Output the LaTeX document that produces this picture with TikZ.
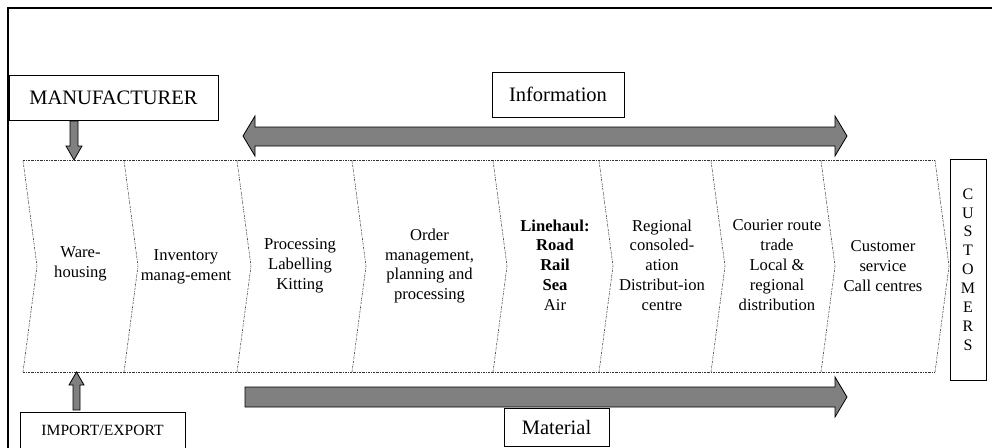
\documentclass[tikz,border=0pt]{standalone}
\usepackage{fontspec}
\setmainfont{Liberation Serif}
\begin{document}
\begin{tikzpicture}[x=1pt,y=-1pt,
  frame/.style={line width=2.6pt},
  band/.style={line width=0.55pt, dash pattern=on 2pt off 1pt on 0.6pt off 1pt, black!80},
  fat/.style={fill=black!50, draw=black, line width=0.8pt, line join=miter},
  lbl/.style={draw, line width=0.8pt, inner sep=0pt, font=\fontsize{20.5}{24}\selectfont},
  stage/.style={align=center, font=\fontsize{16.6}{19.8}\selectfont}]
\useasboundingbox (0,0) rectangle (992,447);
% frame
\draw[frame] (8,460) -- (8,8) -- (1000,8);
% boxes
\node[lbl, minimum width=209pt, minimum height=45pt] (man) at (113.5,97.5) {MANUFACTURER};
\node[lbl, minimum width=132pt, minimum height=45pt] (info) at (558,94.5) {Information};
\node[lbl, minimum width=105pt, minimum height=38pt] (mat) at (556.5,427) {Material};
\node[lbl, minimum width=165pt, minimum height=36pt, font=\fontsize{15.6}{18}\selectfont] (imp) at (102.5,430) {IMPORT/EXPORT};
\node[draw, line width=0.8pt, minimum width=36pt, minimum height=221pt, inner sep=0pt, align=center,
      font=\fontsize{16}{18.9}\selectfont] (cust) at (968,269.5) {C\\U\\S\\T\\O\\M\\E\\R\\S};
% band
\draw[band] (23,160.5) -- (935,160.5);
\draw[band] (23,372) -- (935,372);
\foreach \x in {23,124,237,352,493,599,711,821,935}
  \draw[band] (\x,160.5) -- (\x+14,266) -- (\x,372);
% stage texts
\node[stage] (s1) at (80.5,264) {Ware-\\housing};
\node[stage] (s2) at (186,267) {Inventory\\manag-ement};
\node[stage] (s3) at (300,266) {Processing\\Labelling\\Kitting};
\node[stage] (s4) at (429.5,266) {Order\\management,\\planning and\\processing};
\node[stage] (s5) at (555,265) {\textbf{Linehaul:}\\\textbf{Road}\\\textbf{Rail}\\\textbf{Sea}\\Air};
\node[stage] (s6) at (662,265) {Regional\\consoled-\\ation\\Distribut-ion\\centre};
\node[stage] (s7) at (777,265) {Courier route\\trade\\Local \&\\regional\\distribution};
\node[stage] (s8) at (883,266) {Customer\\service\\Call centres};
% arrows
\draw[fat] (70,121) -- (78,121) -- (78,146) -- (82,146) -- (74,160) -- (66,146) -- (70,146) -- cycle;
\draw[fat] (73,410) -- (80,410) -- (80,385) -- (84,385) -- (76.5,372) -- (69,385) -- (73,385) -- cycle;
\draw[fat] (243,136) -- (255,116) -- (255,127) -- (835,127) -- (835,116) -- (847,136) -- (835,156) -- (835,146) -- (255,146) -- (255,156) -- cycle;
\draw[fat] (245,387) -- (835,387) -- (835,377) -- (847,397) -- (835,417) -- (835,407) -- (245,407) -- cycle;
\end{tikzpicture}
\end{document}
